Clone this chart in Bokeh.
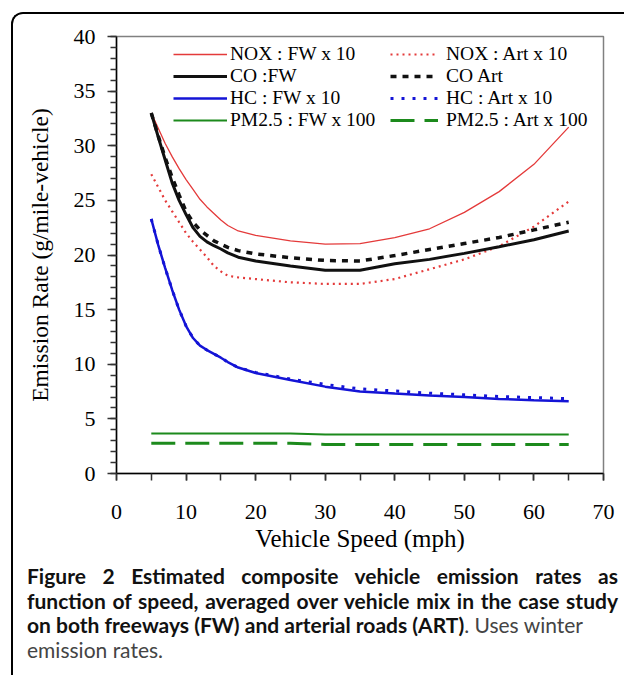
from bokeh.plotting import figure
from bokeh.models import (Range1d, Legend, LegendItem, SingleIntervalTicker,
                          Div, Column)
from bokeh.embed import file_html
from bokeh.resources import INLINE

# ---------------- data ----------------
speed = [5, 6, 7, 8, 9, 10, 11, 12, 13, 14, 15, 16, 17.5, 20, 25, 30, 35,
         40, 45, 50, 55, 60, 65]

nox_fw = [33.0, 31.6, 30.2, 29.0, 27.9, 26.9, 26.0, 25.1, 24.4, 23.8, 23.2,
          22.7, 22.2, 21.8, 21.3, 21.0, 21.05, 21.6, 22.4, 23.9, 25.8, 28.3, 31.7]
nox_art = [27.4, 26.2, 25.0, 24.0, 23.0, 22.0, 21.2, 20.5, 19.8, 19.0, 18.5,
           18.1, 17.95, 17.8, 17.5, 17.35, 17.35, 17.8, 18.7, 19.6, 20.8, 22.6, 24.9]
co_fw = [33.0, 30.8, 28.7, 26.6, 25.0, 23.7, 22.5, 21.7, 21.2, 20.85, 20.55,
         20.2, 19.8, 19.45, 19.0, 18.6, 18.6, 19.2, 19.6, 20.15, 20.75, 21.4, 22.2]
co_art = [33.0, 30.9, 28.9, 27.1, 25.5, 24.0, 23.0, 22.3, 21.8, 21.3, 21.0,
          20.7, 20.4, 20.1, 19.75, 19.5, 19.45, 19.95, 20.5, 21.05, 21.6, 22.3, 23.0]
hc_fw = [23.3, 20.9, 18.8, 16.8, 15.0, 13.5, 12.4, 11.7, 11.3, 10.95, 10.6,
         10.2, 9.7, 9.2, 8.55, 7.95, 7.5, 7.32, 7.15, 7.0, 6.83, 6.7, 6.62]
hc_art = [23.3, 20.9, 18.8, 16.8, 15.0, 13.5, 12.4, 11.7, 11.3, 10.95, 10.6,
          10.2, 9.7, 9.25, 8.65, 8.15, 7.75, 7.55, 7.35, 7.2, 7.05, 6.95, 6.85]
pm_fw = [3.67, 3.67, 3.67, 3.67, 3.67, 3.67, 3.67, 3.67, 3.67, 3.67, 3.67,
         3.67, 3.67, 3.67, 3.67, 3.57, 3.57, 3.57, 3.57, 3.57, 3.57, 3.57, 3.57]
pm_art = [2.78, 2.78, 2.78, 2.78, 2.78, 2.78, 2.78, 2.78, 2.78, 2.78, 2.78,
          2.78, 2.78, 2.78, 2.78, 2.66, 2.66, 2.66, 2.66, 2.66, 2.66, 2.66, 2.66]

caption_bold_1 = "Figure 2 Estimated composite vehicle emission rates as"
caption_bold_2 = "function of speed, averaged over vehicle mix in the case study"
caption_bold_3 = "on both freeways (FW) and arterial roads (ART)"
caption_norm_3 = ". Uses winter"
caption_norm_4 = "emission rates."

# ---------------- figure ----------------
W, H = 611, 545
FL, FR, FT, FB = 103, 21, 22, 86           # frame borders in canvas px
p = figure(width=W, height=H, output_backend="svg", toolbar_location=None,
           x_range=Range1d(0, 70), y_range=Range1d(0, 40),
           min_border_left=FL, min_border_right=FR,
           min_border_top=FT, min_border_bottom=FB)
p.xgrid.visible = False
p.ygrid.visible = False
p.background_fill_color = "white"
p.border_fill_color = "white"
p.outline_line_color = "#808080"
p.outline_line_width = 1.5

SERIF = "Liberation Serif"

xa = p.xaxis[0]
xa.ticker = SingleIntervalTicker(interval=10, num_minor_ticks=2)
xa.major_tick_out = 7
xa.major_tick_in = 0
xa.minor_tick_out = 7
xa.minor_tick_in = 0
xa.axis_line_width = 1.5
xa.axis_line_color = "black"
xa.major_tick_line_color = "#333333"
xa.minor_tick_line_color = "#333333"
xa.major_tick_line_width = 1.5
xa.minor_tick_line_width = 1.5
xa.major_label_text_font = SERIF
xa.major_label_text_font_size = "22px"
xa.major_label_text_color = "black"
xa.major_label_standoff = 24
xa.axis_label = "Vehicle Speed (mph)"
xa.axis_label_text_font = SERIF
xa.axis_label_text_font_size = "25px"
xa.axis_label_text_font_style = "normal"
xa.axis_label_text_color = "black"
xa.axis_label_standoff = 3

ya = p.yaxis[0]
ya.ticker = SingleIntervalTicker(interval=5, num_minor_ticks=5)
ya.major_tick_out = 9
ya.major_tick_in = 0
ya.minor_tick_out = 6
ya.minor_tick_in = 0
ya.axis_line_width = 1.5
ya.axis_line_color = "black"
ya.major_tick_line_color = "#333333"
ya.minor_tick_line_color = "#333333"
ya.major_tick_line_width = 1.5
ya.minor_tick_line_width = 1.5
ya.major_label_text_font = SERIF
ya.major_label_text_font_size = "22px"
ya.major_label_text_color = "black"
ya.major_label_standoff = 12
ya.axis_label = "Emission Rate (g/mile-vehicle)"
ya.axis_label_text_font = SERIF
ya.axis_label_text_font_size = "23.5px"
ya.axis_label_text_font_style = "normal"
ya.axis_label_text_color = "black"
ya.axis_label_standoff = 18

RED, BLK, BLU, GRN = "#e43a3a", "#111111", "#1414d6", "#1c8a1c"

r_nox_fw = p.line(speed, nox_fw, line_color=RED, line_width=1.3)
r_nox_art = p.line(speed, nox_art, line_color=RED, line_width=2.2, line_dash="2 4")
r_co_fw = p.line(speed, co_fw, line_color=BLK, line_width=3)
r_co_art = p.line(speed, co_art, line_color=BLK, line_width=3.5, line_dash="6 6")
r_hc_fw = p.line(speed, hc_fw, line_color=BLU, line_width=2.5)
r_hc_art = p.line(speed, hc_art, line_color=BLU, line_width=3, line_dash="3 8")
r_pm_fw = p.line(speed, pm_fw, line_color=GRN, line_width=2)
r_pm_art = p.line(speed, pm_art, line_color=GRN, line_width=3, line_dash="24 10")

def make_legend(items, x, glyph_w, standoff):
    return Legend(items=items, location=(x, 342), orientation="vertical",
                  padding=0, margin=0, spacing=0,
                  glyph_width=glyph_w, glyph_height=20, label_height=20,
                  label_standoff=standoff,
                  label_text_font=SERIF, label_text_font_size="19.5px",
                  label_text_line_height=1.0,
                  label_text_color="black",
                  border_line_color=None, background_fill_alpha=0)

leg1 = make_legend([LegendItem(label="NOX : FW x 10", renderers=[r_nox_fw]),
                    LegendItem(label="CO :FW", renderers=[r_co_fw]),
                    LegendItem(label="HC : FW x 10", renderers=[r_hc_fw]),
                    LegendItem(label="PM2.5 : FW x 100", renderers=[r_pm_fw])],
                   57, 54, 3)
leg2 = make_legend([LegendItem(label="NOX : Art x 10", renderers=[r_nox_art]),
                    LegendItem(label="CO Art", renderers=[r_co_art]),
                    LegendItem(label="HC : Art x 10", renderers=[r_hc_art]),
                    LegendItem(label="PM2.5 : Art x 100", renderers=[r_pm_art])],
                   274, 48, 8)
p.add_layout(leg1)
p.add_layout(leg2)

# ---------------- caption ----------------
html = (
    '<div style="font-family: Lato, sans-serif; font-size: 21px; line-height: 24.5px; '
    'color: #111; padding: 5px 6px 0 14px; margin: 0; width: 611px; '
    'box-sizing: border-box;">'
    f'<div style="text-align: justify; text-align-last: justify; font-weight: bold;">{caption_bold_1}</div>'
    f'<div style="text-align: justify; text-align-last: justify; font-weight: bold;">{caption_bold_2}</div>'
    f'<div style="white-space: nowrap;"><b>{caption_bold_3}</b>'
    f'<span style="color: #444;">{caption_norm_3}</span></div>'
    f'<div style="color: #444;">{caption_norm_4}</div>'
    '</div>'
)
cap = Div(text=html, width=611, height=116, margin=0)

layout = Column(children=[p, cap], spacing=0,
                styles={"margin-left": "11px", "margin-top": "12px",
                        "border-left": "2px solid black",
                        "border-top": "2px solid black",
                        "border-top-left-radius": "12px",
                        "overflow": "hidden"})

open("out.html", "w").write(file_html(layout, INLINE))
